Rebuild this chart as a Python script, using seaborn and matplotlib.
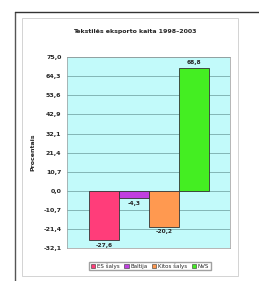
import matplotlib
matplotlib.use("Agg")
import matplotlib.pyplot as plt
import matplotlib.patches as mpatches
import seaborn as sns
import pandas as pd

# values (blurry, estimated)
groups = ["ES šalys", "Baltija", "Kitos šalys", "NVS"]
change = [-27.6, -4.3, -20.2, 68.8]
bar_colors = ["#ff3d7a", "#c040e0", "#ff9950", "#44ee22"]
y_ticks = [-32.1, -21.4, -10.7, 0.0, 10.7, 21.4, 32.1, 42.9, 53.6, 64.3, 75.0]

df = pd.DataFrame({"group": groups, "change": change})

sns.set_theme(style="white")
plt.rcParams["font.family"] = ["DejaVu Sans"]

fig = plt.figure(figsize=(2.59, 2.81), dpi=100)
fig.patch.set_facecolor("white")

# outer frames
fig.add_artist(plt.Line2D([15 / 259, 15 / 259], [0, 1 - 12 / 281], color="#555555", lw=1.0))
fig.add_artist(plt.Line2D([15 / 259, 1], [1 - 12 / 281, 1 - 12 / 281], color="#333333", lw=1.0))
fig.add_artist(mpatches.Rectangle((22 / 259, 1 - 276 / 281), 216 / 259, 258 / 281,
                                  fill=False, ec="#cccccc", lw=0.6, transform=fig.transFigure))

ax = fig.add_axes([67 / 259, 1 - 248 / 281, 163 / 259, 191 / 281])
ax.set_facecolor("#c2fafa")

sns.barplot(data=df, x="group", y="change", hue="group", palette=bar_colors,
            saturation=1, width=1.0, edgecolor="#333333", linewidth=0.6,
            legend=False, ax=ax)

ax.set_xlim(-1.25, 4.2)
ax.set_ylim(y_ticks[0], y_ticks[-1])
ax.set_yticks(y_ticks)
ax.set_yticklabels([f"{t:.1f}".replace(".", ",") for t in y_ticks],
                   fontsize=4.5, fontweight="bold")
ax.set_xticks([])
ax.set_xlabel("")
ax.set_ylabel("Procentais", fontsize=4.5, fontweight="bold", labelpad=6)
ax.grid(axis="y", color="#6a9a9a", lw=0.5)
ax.set_axisbelow(True)
ax.tick_params(axis="y", length=0, pad=4)
for s in ax.spines.values():
    s.set_color("#999999")
    s.set_linewidth(0.5)

# value labels
for i, v in enumerate(change):
    txt = f"{v:.1f}".replace(".", ",")
    if v < 0:
        ax.text(i, v - 1.5, txt, ha="center", va="top", fontsize=4.2, fontweight="bold")
    else:
        ax.text(i, v + 1.5, txt, ha="center", va="bottom", fontsize=4.2, fontweight="bold")

fig.text(135 / 259, 1 - 32 / 281, "Tekstilės eksporto kaita 1998–2003",
         ha="center", va="center", fontsize=4.5, fontweight="bold")

handles = [mpatches.Patch(facecolor=c, edgecolor="#333333", lw=0.4) for c in bar_colors]
fig.legend(handles, groups, loc="center", bbox_to_anchor=(150 / 259, 1 - 266 / 281),
           ncol=4, fontsize=4.0, frameon=True, edgecolor="#888888", fancybox=False,
           handlelength=0.8, handleheight=0.8, handletextpad=0.3, columnspacing=0.8,
           borderpad=0.3)

fig.savefig("out.png", dpi=100)
